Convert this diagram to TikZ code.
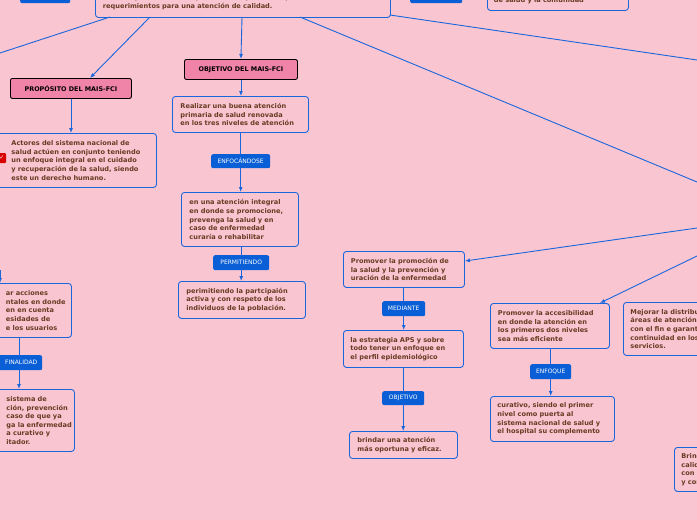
\documentclass[tikz,border=0pt]{standalone}
\usepackage{fontspec}
\setmainfont{DejaVu Sans}
\usetikzlibrary{arrows.meta}
\definecolor{bg}{HTML}{F9C5D1}
\definecolor{bb}{HTML}{1A66DD}
\definecolor{tx}{HTML}{6B3A22}
\definecolor{pk}{HTML}{F083A8}
\definecolor{pill}{HTML}{0A5FD6}
\begin{document}
\begin{tikzpicture}[x=1pt,y=-1pt,
  box/.style={draw=bb,line width=0.9pt,rounded corners=3pt,fill=bg,text=tx,
    font=\bfseries\fontsize{6.6}{8.6}\selectfont,align=left,inner sep=0pt,
    anchor=north west},
  head/.style={draw=black,line width=0.9pt,rounded corners=2pt,fill=pk,text=black,
    font=\bfseries\fontsize{6.4}{8}\selectfont,inner sep=0pt,anchor=north west},
  pl/.style={fill=pill,rounded corners=2pt,text=white,font=\fontsize{6}{7}\selectfont,
    inner sep=0pt,anchor=north west},
  ar/.style={draw=bb,line width=0.9pt,-{Latex[length=5pt,width=4pt]}},
  ln/.style={draw=bb,line width=0.9pt}]
\useasboundingbox (0,0) rectangle (697,520);
\clip (0,0) rectangle (697,520);
\fill[bg] (0,0) rectangle (697,520);
% top
\node[box,minimum width=295pt,minimum height=30pt,text width=280pt] (top) at (95,-13)
 {familias y la comunidad, permitiendo que se cumpla con los\\requerimientos para una atención de calidad.};
\node[pl,minimum width=50pt,minimum height=12pt] (tl) at (20,-9) {};
\node[pl,minimum width=52pt,minimum height=12pt] (tr) at (410,-9) {};
\node[box,minimum width=141pt,minimum height=20pt,text width=128pt] (trb) at (487,-10)
 {de salud y la comunidad};
% propósito
\node[head,minimum width=121pt,minimum height=20pt] (prop) at (10,78) {PROPÓSITO DEL MAIS-FCI};
\node[head,minimum width=113pt,minimum height=20pt] (obj) at (184,59) {OBJETIVO DEL MAIS-FCI};
\node[box,minimum width=164pt,minimum height=54pt,text width=142pt] (act) at (-8,133)
 {\hspace*{8pt}\parbox[t]{142pt}{Actores del sistema nacional de\\salud actúen en conjunto teniendo\\un enfoque integral en el cuidado\\y recuperación de la salud, siendo\\este un derecho humano.}};
\fill[red!85!black,rounded corners=1pt] (-2,153) rectangle (6,163);
\node[text=white,font=\fontsize{6}{6}\selectfont,inner sep=0pt] (chk) at (2,158) {\bfseries ✓};
\node[box,minimum width=136pt,minimum height=36pt,text width=124pt] (real) at (172,96)
 {\hspace*{2pt}\parbox[t]{124pt}{Realizar una buena atención\\primaria de salud renovada\\en los tres niveles de atención}};
\node[pl,minimum width=59pt,minimum height=14pt] (enf) at (211,154) {ENFOCÁNDOSE};
\node[box,minimum width=117pt,minimum height=54pt,text width=105pt] (int) at (181,192)
 {\hspace*{2pt}\parbox[t]{105pt}{en una atención integral\\en donde se promocione,\\prevenga la salud y en\\caso de enfermedad\\curaría o rehabilitar}};
\node[pl,minimum width=56pt,minimum height=15pt] (per) at (213,255) {PERMITIENDO};
\node[box,minimum width=127pt,minimum height=37pt,text width=115pt] (part) at (178,281)
 {\hspace*{2pt}\parbox[t]{115pt}{perimitiendo la partcipaión\\activa y con respeto de los\\individuos de la población.}};
% left cut
\node[box,minimum width=81pt,minimum height=54pt,text width=70pt] (acc) at (-10,283)
 {\hspace*{10pt}\parbox[t]{70pt}{ar acciones\\ntales en donde\\en en cuenta\\esidades de\\e los usuarios}};
\coordinate (accin) at (0,270);
\node[pl,minimum width=52pt,minimum height=15pt] (fin) at (-10,355) {\hspace*{10pt}FINALIDAD};
\node[box,minimum width=84pt,minimum height=62pt,text width=72pt] (sis) at (-10,389)
 {\hspace*{10pt}\parbox[t]{72pt}{sistema de\\ción, prevención\\ caso de que ya\\ga la enfermedad\\a curativo y\\itador.}};
% middle right
\node[box,minimum width=121pt,minimum height=36pt,text width=110pt] (prom) at (343,251)
 {\hspace*{2pt}\parbox[t]{112pt}{Promover la promoción de\\la salud y la prevención y\\uración de la enfermedad}};
\node[pl,minimum width=43pt,minimum height=15pt] (med) at (382,301) {MEDIANTE};
\node[box,minimum width=120pt,minimum height=37pt,text width=110pt] (aps) at (343,330)
 {\hspace*{2pt}\parbox[t]{112pt}{la estrategia APS y sobre\\todo tener un enfoque en\\el perfil epidemiológico}};
\node[pl,minimum width=42pt,minimum height=14pt] (ob2) at (382,391) {OBJETIVO};
\node[box,minimum width=108pt,minimum height=27pt,text width=96pt] (bri) at (349,431)
 {\hspace*{2pt}\parbox[t]{98pt}{brindar una atención\\más oportuna y eficaz.}};
\node[box,minimum width=119pt,minimum height=45pt,text width=108pt] (acs) at (490,303)
 {\hspace*{2pt}\parbox[t]{110pt}{Promover la accesibilidad\\en donde la atención en\\los primeros dos niveles\\sea más eficiente}};
\node[pl,minimum width=41pt,minimum height=15pt] (enq) at (530,364) {ENFOQUE};
\node[box,minimum width=124pt,minimum height=45pt,text width=114pt] (cur) at (490,396)
 {\hspace*{2pt}\parbox[t]{116pt}{curativo, siendo el primer\\nivel como puerta al\\sistema nacional de salud y\\el hospital su complemento}};
\node[box,minimum width=130pt,minimum height=53pt,text width=120pt] (mej) at (623,302)
 {\hspace*{2pt}\parbox[t]{122pt}{Mejorar la distribución de las\\áreas de atención médica\\con el fin e garantizar la\\continuidad en los\\servicios.}};
\node[box,minimum width=120pt,minimum height=44pt,text width=110pt] (brin) at (674,447)
 {\hspace*{2pt}\parbox[t]{112pt}{Brindar atención de\\calidad y eficiencia\\con la comunidad\\y con el paciente}};
% connectors
\coordinate (offl) at (0,53);
\coordinate (offr1) at (697,60);
\coordinate (offr2) at (697,182);
\coordinate (offr3) at (697,228);
\coordinate (offr4) at (697,256);
\draw[ln] (110,17) -- (offl);
\draw[ar] (150,17) -- (90,78);
\draw[ar] (242,17) -- (obj.north);
\draw[ln] (300,17) -- (offr2);
\draw[ln] (390,15) -- (offr1);
\draw[ar] (offr3) -- (prom.east |- 0,261);
\draw[ar] (offr4) -- (600,303);
\draw[ar] (prop.south -| 71,0) -- (71,133);
\draw[ar] (obj.south) -- (real.north -| obj.south);
\draw[ln] (real.south -| enf.north) -- (enf.north);
\draw[ar] (enf.south) -- (int.north -| enf.south);
\draw[ln] (int.south -| per.north) -- (per.north);
\draw[ar] (per.south) -- (part.north -| per.south);
\draw[ar] (accin) -- (0,283);
\draw[ln] (acc.south -| 19,0) -- (19,355);
\draw[ar] (19,370) -- (19,389);
\draw[ln] (prom.south -| med.north) -- (med.north);
\draw[ar] (med.south) -- (aps.north -| med.south);
\draw[ln] (aps.south -| ob2.north) -- (ob2.north);
\draw[ar] (ob2.south) -- (bri.north -| ob2.south);
\draw[ln] (acs.south -| enq.north) -- (enq.north);
\draw[ar] (enq.south) -- (cur.north -| enq.south);
\end{tikzpicture}
\end{document}
